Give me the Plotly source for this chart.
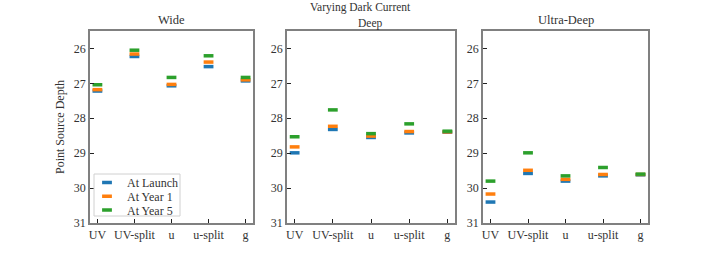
import plotly.graph_objects as go

categories = ["UV", "UV-split", "u", "u-split", "g"]
panels = ["Wide", "Deep", "Ultra-Deep"]
series_names = ["At Launch", "At Year 1", "At Year 5"]
colors = ["#1f77b4", "#ff7f0e", "#2ca02c"]

wide_launch = [27.22, 26.23, 27.07, 26.52, 26.93]
wide_year1 = [27.18, 26.16, 27.03, 26.39, 26.90]
wide_year5 = [27.04, 26.05, 26.83, 26.21, 26.83]

deep_launch = [28.99, 28.32, 28.55, 28.42, 28.40]
deep_year1 = [28.82, 28.23, 28.51, 28.38, 28.39]
deep_year5 = [28.53, 27.76, 28.44, 28.16, 28.37]

ultra_launch = [30.40, 29.58, 29.80, 29.65, 29.62]
ultra_year1 = [30.17, 29.49, 29.75, 29.61, 29.61]
ultra_year5 = [29.80, 28.99, 29.65, 29.41, 29.60]

data = [
    [wide_launch, wide_year1, wide_year5],
    [deep_launch, deep_year1, deep_year5],
    [ultra_launch, ultra_year1, ultra_year5],
]

yticks = [26, 27, 28, 29, 30, 31]

font_family = "Liberation Serif, DejaVu Serif, serif"
W, H = 720, 256
px_domains = [(90, 253), (287, 455), (483, 648)]
ytop, ybot = 31, 223
txt = "#333"
legend_rows = [182.5, 196.2, 209.9]
legend_keys = ["legend", "legend2", "legend3"]


def px(x):
    return x / W


def py(y):
    return 1 - y / H


fig = go.Figure()
for p in range(3):
    xa = "x" if p == 0 else f"x{p+1}"
    ya = "y" if p == 0 else f"y{p+1}"
    for s in range(3):
        fig.add_trace(go.Scatter(
            x=list(range(len(categories))), y=data[p][s], mode="markers",
            name=series_names[s], showlegend=(p == 0), legend=legend_keys[s],
            marker=dict(symbol="line-ew", size=7, line=dict(width=3.5, color=colors[s]), color=colors[s]),
            xaxis=xa, yaxis=ya,
        ))

layout = dict(
    width=W, height=H, margin=dict(l=0, r=0, t=0, b=0, autoexpand=False),
    paper_bgcolor="white", plot_bgcolor="white",
    font=dict(family=font_family, size=12, color=txt),
    showlegend=True,
)
for s, key in enumerate(legend_keys):
    layout[key] = dict(x=px(87), y=py(legend_rows[s]), xanchor="left", yanchor="middle",
                       borderwidth=0, bgcolor="rgba(0,0,0,0)",
                       font=dict(size=12, family=font_family, color=txt),
                       itemwidth=30, tracegroupgap=0)

annotations = []
for p in range(3):
    x0, x1 = px_domains[p]
    xk = "xaxis" if p == 0 else f"xaxis{p+1}"
    yk = "yaxis" if p == 0 else f"yaxis{p+1}"
    ya = "y" if p == 0 else f"y{p+1}"
    layout[xk] = dict(
        domain=[px(x0), px(x1)], anchor=ya, range=[-0.2, 4.2], automargin=False,
        tickmode="array", tickvals=list(range(len(categories))), ticktext=categories,
        ticks="inside", ticklen=4, tickcolor="#222", showgrid=False, zeroline=False,
        showline=True, linecolor="#808080", linewidth=1.5, mirror=True,
        tickfont=dict(size=12, family=font_family, color=txt),
    )
    layout[yk] = dict(
        domain=[py(ybot), py(ytop)], anchor="x" if p == 0 else f"x{p+1}",
        range=[31, 25.5], automargin=False,
        tickmode="array", tickvals=yticks, ticktext=[str(t) for t in yticks],
        ticks="inside", ticklen=4, tickcolor="#222", showgrid=False, zeroline=False,
        showline=True, linecolor="#808080", linewidth=1.5, mirror=True,
        tickfont=dict(size=12, family=font_family, color=txt),
    )
    annotations.append(dict(text=panels[p], x=px((x0 + x1) / 2), y=py(20) if p != 1 else py(23),
                            xref="paper", yref="paper", showarrow=False,
                            font=dict(size=11.5 if p == 1 else 12.5, family=font_family, color=txt),
                            xanchor="center", yanchor="middle", borderpad=0))
layout["yaxis"]["title"] = dict(text="Point Source Depth", font=dict(size=12, family=font_family, color=txt), standoff=7)
annotations.append(dict(text="Varying Dark Current", x=px(360), y=py(7.5), xref="paper", yref="paper",
                        showarrow=False, font=dict(size=11.5, family=font_family, color=txt),
                        xanchor="center", yanchor="middle", borderpad=0))
layout["annotations"] = annotations
layout["shapes"] = [dict(type="rect", xref="paper", yref="paper",
                         x0=px(94), x1=px(180), y0=py(216), y1=py(174),
                         line=dict(color="#d0d0d0", width=1), fillcolor="rgba(255,255,255,0.8)",
                         layer="above")]
fig.update_layout(**layout)
fig.write_html("out.html", config={"displayModeBar": False},
               post_script="document.body.style.margin='0px';")
